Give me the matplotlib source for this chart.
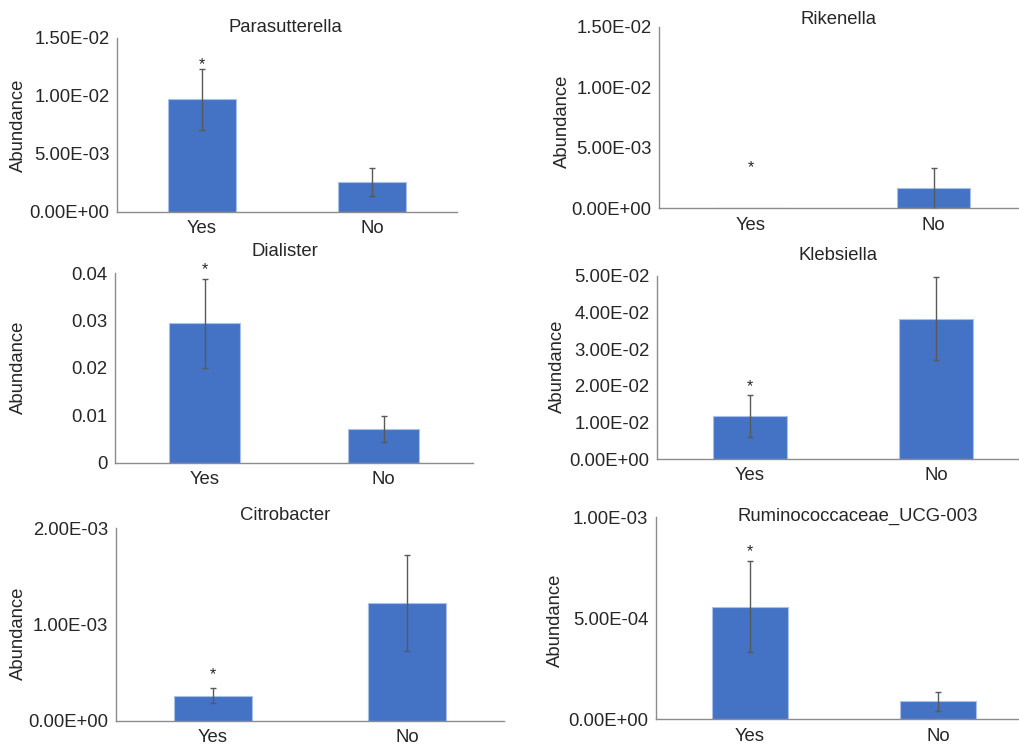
import matplotlib
matplotlib.use("Agg")
import matplotlib.pyplot as plt
from matplotlib.ticker import FixedLocator, FixedFormatter

plt.rcParams['font.family'] = ['Liberation Sans', 'DejaVu Sans']

W, H = 1019, 746

groups = ["Yes", "No"]

parasutterella_mean = [0.0097, 0.0026]
parasutterella_err = [0.0026, 0.0012]

rikenella_mean = [0.0, 0.00165]
rikenella_err = [0.0, 0.0017]

dialister_mean = [0.0294, 0.0071]
dialister_err = [0.0093, 0.0028]

klebsiella_mean = [0.0117, 0.0383]
klebsiella_err = [0.0057, 0.0114]

citrobacter_mean = [0.00026, 0.00122]
citrobacter_err = [0.00008, 0.0005]

rumino_mean = [0.000557, 0.000089]
rumino_err = [0.000225, 0.000048]

# significance marks: (group index, height of the asterisk)
parasutterella_star = (0, 0.0131)
rikenella_star = (0, 0.00377)
dialister_star = (0, 0.0418)
klebsiella_star = (0, 0.0211)
citrobacter_star = (0, 0.000527)
rumino_star = (0, 0.000854)

sci_ticks_15 = [0.0, 0.005, 0.01, 0.015]
dialister_ticks = [0.0, 0.01, 0.02, 0.03, 0.04]
dialister_ticklabels = ["0", "0.01", "0.02", "0.03", "0.04"]
klebsiella_ticks = [0.0, 0.01, 0.02, 0.03, 0.04, 0.05]
citrobacter_ticks = [0.0, 0.001, 0.002]
rumino_ticks = [0.0, 0.0005, 0.001]

BAR = "#4472C4"
EDGE = "#A9C0E8"
ERR = "#595959"
SPINE = "#8C8C8C"
TXT = "#262626"
FS = 13.3

fig = plt.figure(figsize=(W / 100, H / 100), dpi=100)


def sci(v):
    return "%.2E" % v


panels = [
    # title, mean, err, star, ticks, labels, box(l, r, t, b), title xy, ylabel xy
    ("Parasutterella", parasutterella_mean, parasutterella_err, parasutterella_star,
     sci_ticks_15, None, (117, 457, 38, 212), (285, 27), (18, 125)),
    ("Rikenella", rikenella_mean, rikenella_err, rikenella_star,
     sci_ticks_15, None, (659, 1025, 26.7, 208.3), (838, 19), (562, 121)),
    ("Dialister", dialister_mean, dialister_err, dialister_star,
     dialister_ticks, dialister_ticklabels, (115, 473, 273.3, 462.7), (285, 251), (18, 367)),
    ("Klebsiella", klebsiella_mean, klebsiella_err, klebsiella_star,
     klebsiella_ticks, None, (657, 1029, 275.7, 459), (838, 256), (557, 366)),
    ("Citrobacter", citrobacter_mean, citrobacter_err, citrobacter_star,
     citrobacter_ticks, None, (116, 504, 528.3, 720.7), (285, 516), (18, 633)),
    ("Ruminococcaceae_UCG-003", rumino_mean, rumino_err, rumino_star,
     rumino_ticks, None, (656, 1032, 517.3, 719.3), (858, 516), (555, 620)),
]

for title, mean, err, star, ticks, labels, box, txy, lxy in panels:
    l, r, t, b = box
    ax = fig.add_axes([l / W, 1 - b / H, (r - l) / W, (b - t) / H])
    x = list(range(len(groups)))
    ax.bar(x, mean, width=0.4, color=BAR, edgecolor=EDGE, linewidth=0.8, zorder=2)
    idx = [i for i in x if err[i] > 0]
    ax.errorbar([x[i] for i in idx], [mean[i] for i in idx], yerr=[err[i] for i in idx],
                fmt="none", ecolor=ERR, elinewidth=1.0, capsize=2.5, capthick=1.0, zorder=3)
    ax.set_xlim(-0.5, 1.5)
    ax.set_ylim(0, ticks[-1])
    ax.yaxis.set_major_locator(FixedLocator(ticks))
    if labels is None:
        labels = [sci(v) for v in ticks]
    ax.yaxis.set_major_formatter(FixedFormatter(labels))
    ax.set_xticks(x)
    ax.set_xticklabels(groups)
    ax.tick_params(axis="y", length=0, pad=5.5, labelsize=FS, labelcolor=TXT)
    ax.tick_params(axis="x", length=0, pad=6, labelsize=13.3, labelcolor=TXT)
    for s in ("top", "right"):
        ax.spines[s].set_visible(False)
    for s in ("left", "bottom"):
        ax.spines[s].set_color(SPINE)
        ax.spines[s].set_linewidth(1.0)
    ax.patch.set_alpha(0)
    gi, sy = star
    ax.annotate("*", xy=(x[gi], sy), xytext=(0, -6.6), textcoords="offset points",
                ha="center", va="baseline", fontsize=11.5, color=TXT, annotation_clip=False)
    fig.text(txy[0] / W, 1 - txy[1] / H, title, ha="center", va="center",
             fontsize=FS, color=TXT)
    fig.text(lxy[0] / W, 1 - lxy[1] / H, "Abundance", ha="center", va="center",
             rotation=90, fontsize=FS, color=TXT)

fig.savefig("out.png", dpi=100, facecolor="white")
